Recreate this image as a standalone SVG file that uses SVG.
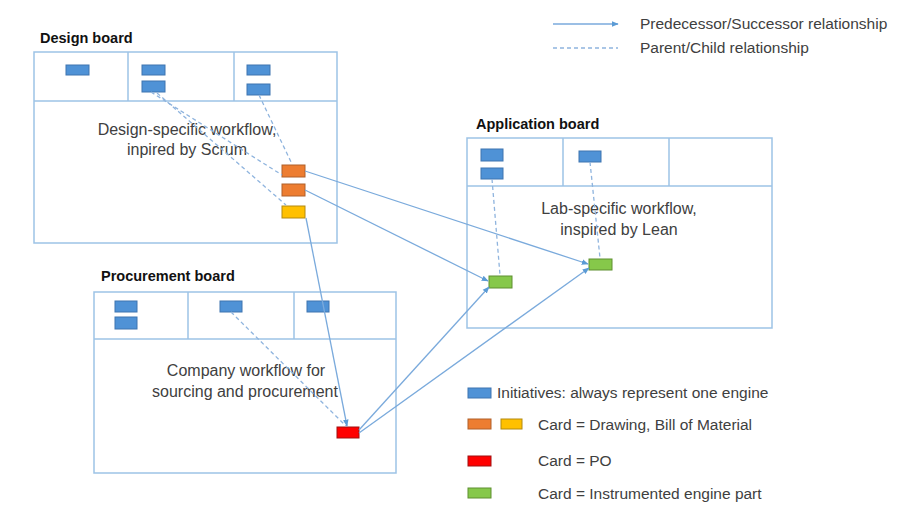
<svg xmlns="http://www.w3.org/2000/svg" width="918" height="519" viewBox="0 0 918 519">
<style>
.board{fill:#fff;stroke:#9dc3e6;stroke-width:1.5}
.div{stroke:#9dc3e6;stroke-width:1.5;fill:none}
.title{font-family:"Liberation Sans",Arial,sans-serif;font-weight:bold;font-size:14.5px;fill:#111}
.body{font-family:"Liberation Sans",Arial,sans-serif;font-size:16px;fill:#404040;text-anchor:middle}
.leg{font-family:"Liberation Sans",Arial,sans-serif;font-size:15.5px;fill:#404040}
.blue{fill:#4f92d6;stroke:#3e75b0;stroke-width:1}
.orange{fill:#ed7d31;stroke:#b0602a;stroke-width:1}
.yellow{fill:#ffc000;stroke:#b38a10;stroke-width:1}
.red{fill:#ff0000;stroke:#a01010;stroke-width:1}
.green{fill:#86c84a;stroke:#5e8f30;stroke-width:1}
.solid{stroke:#7aaadc;stroke-width:1.3;fill:none;marker-end:url(#arr)}
.dash{stroke:#8fb4de;stroke-width:1.3;fill:none;stroke-dasharray:4 3}
</style>
<defs>
<marker id="arr" viewBox="0 0 10 10" refX="9" refY="5" markerWidth="7" markerHeight="7" markerUnits="userSpaceOnUse" orient="auto">
<path d="M0,1 L10,5 L0,9 z" fill="#5b9bd5"/>
</marker>
</defs>
<rect width="918" height="519" fill="#fff"/>

<g id="design-board">
<text class="title" x="40" y="43">Design board</text>
<rect class="board" x="34" y="52" width="303" height="191"/>
<path class="div" d="M34,101 H337 M128,52 V101 M234,52 V101"/>
<text class="body" x="187" y="135">Design-specific workflow,</text>
<text class="body" x="187" y="155">inpired by Scrum</text>
<rect class="blue" x="66" y="65" width="23" height="10"/>
<rect class="blue" x="142" y="65" width="23" height="10"/>
<rect class="blue" x="142" y="81" width="23" height="11"/>
<rect class="blue" x="247" y="65" width="23" height="10"/>
<rect class="blue" x="247" y="84" width="23" height="11"/>
<rect class="orange" x="282" y="165" width="23" height="12"/>
<rect class="orange" x="282" y="184" width="23" height="12"/>
<rect class="yellow" x="282" y="206" width="23" height="12"/>
</g>

<g id="application-board">
<text class="title" x="476" y="129">Application board</text>
<rect class="board" x="467" y="138" width="305" height="190"/>
<path class="div" d="M467,186 H772 M563,138 V186 M669,138 V186"/>
<text class="body" x="619" y="214">Lab-specific workflow,</text>
<text class="body" x="619" y="235">inspired by Lean</text>
<rect class="blue" x="481" y="149" width="22" height="12"/>
<rect class="blue" x="481" y="168" width="22" height="11"/>
<rect class="blue" x="579" y="151" width="22" height="11"/>
<rect class="green" x="489" y="276" width="23" height="12"/>
<rect class="green" x="589" y="259" width="23" height="11"/>
</g>

<g id="procurement-board">
<text class="title" x="101" y="281">Procurement board</text>
<rect class="board" x="94" y="292" width="302" height="181"/>
<path class="div" d="M94,339 H396 M188,292 V339 M294,292 V339"/>
<text class="body" x="246" y="376">Company workflow for</text>
<text class="body" x="245" y="397">sourcing and procurement</text>
<rect class="blue" x="115" y="301" width="22" height="11"/>
<rect class="blue" x="115" y="317" width="22" height="12"/>
<rect class="blue" x="220" y="301" width="22" height="11"/>
<rect class="blue" x="307" y="301" width="22" height="11"/>
<rect class="red" x="337" y="427" width="22" height="11"/>
</g>

<g id="connectors">
<line class="dash" x1="151" y1="92" x2="282" y2="175"/>
<line class="dash" x1="157" y1="93" x2="286" y2="205"/>
<line class="dash" x1="259" y1="95" x2="292" y2="164"/>
<line class="dash" x1="492" y1="179" x2="500" y2="275"/>
<line class="dash" x1="590" y1="162" x2="600" y2="258"/>
<line class="dash" x1="231" y1="312" x2="346" y2="426"/>
<line class="solid" x1="305" y1="171" x2="588" y2="264"/>
<line class="solid" x1="305" y1="190" x2="488" y2="281"/>
<line class="solid" x1="306" y1="218" x2="347" y2="426"/>
<line class="solid" x1="359" y1="430" x2="489" y2="287"/>
<line class="solid" x1="359" y1="433" x2="589" y2="268"/>
</g>

<g id="legend">
<line x1="553" y1="24" x2="618" y2="24" class="solid"/>
<text class="leg" x="640" y="29">Predecessor/Successor relationship</text>
<line x1="553" y1="48" x2="618" y2="48" class="dash"/>
<text class="leg" x="640" y="53">Parent/Child relationship</text>
<rect class="blue" x="468" y="388" width="23" height="10"/>
<text class="leg" x="497" y="398">Initiatives: always represent one engine</text>
<rect class="orange" x="468" y="419" width="23" height="10"/>
<rect class="yellow" x="501" y="419" width="21" height="10"/>
<text class="leg" x="538" y="430">Card = Drawing, Bill of Material</text>
<rect class="red" x="468" y="456" width="23" height="10"/>
<text class="leg" x="538" y="466">Card = PO</text>
<rect class="green" x="468" y="488" width="23" height="10"/>
<text class="leg" x="538" y="499">Card = Instrumented engine part</text>
</g>
</svg>
